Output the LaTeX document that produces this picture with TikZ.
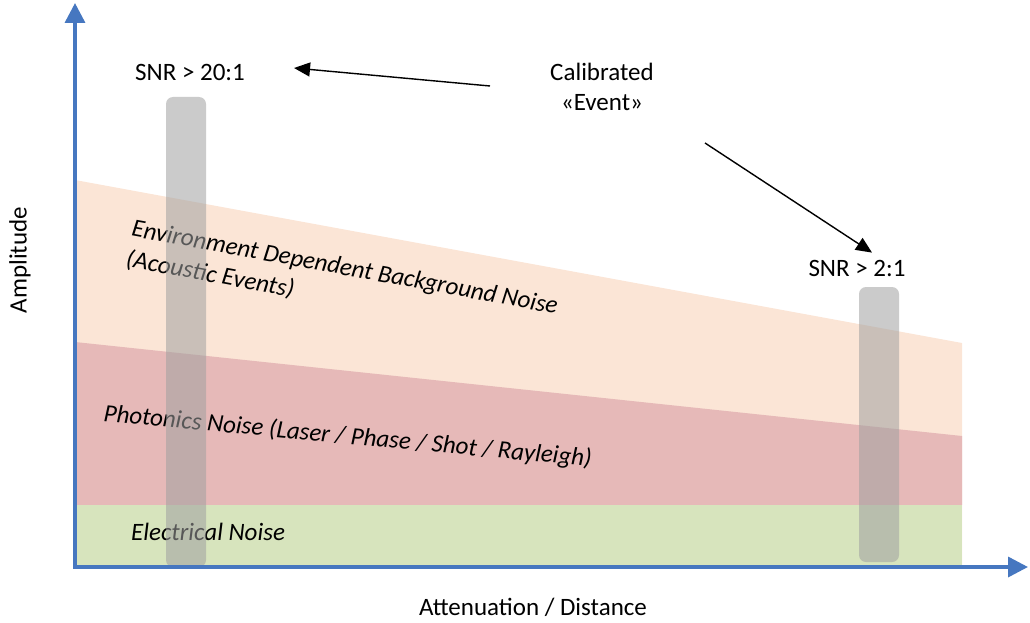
\documentclass[tikz,border=0pt]{standalone}
\usepackage{fontspec}
\setmainfont{Carlito}
\usetikzlibrary{arrows.meta}
\definecolor{axisblue}{RGB}{70,119,192}
\definecolor{envband}{RGB}{251,229,214}
\definecolor{photband}{RGB}{230,185,184}
\definecolor{elecband}{RGB}{215,228,189}
\definecolor{bargray}{RGB}{160,160,160}

\begin{document}
\begin{tikzpicture}[
    x=1pt, y=-1pt,
    every node/.style={font=\fontsize{25}{30}\selectfont, inner sep=2pt},
    noise/.style={font=\fontsize{25}{31}\selectfont\itshape, anchor=base west, align=left},
    snrbar/.style={fill=bargray, fill opacity=0.55, rounded corners=7pt},
    axis/.style={axisblue, line width=3.5pt, {Triangle[length=20pt,width=20pt]}-{Triangle[length=20pt,width=20pt]}},
    pointer/.style={line width=1.4pt, -{Triangle[length=16pt,width=14pt]}},
]
  \useasboundingbox (0,0) rectangle (1030,623);

  \fill[envband]  (75,180) -- (962,343) -- (962,565) -- (75,565) -- cycle;
  \fill[photband] (75,342) -- (962,436) -- (962,505) -- (75,505) -- cycle;
  \fill[elecband] (75,505) rectangle (962,565);

  \node [noise, rotate=-10.4] (env)  at (123,266) {Environment Dependent Background Noise\\(Acoustic Events)};
  \node [noise, rotate=-5.3]  (phot) at (101,421) {Photonics Noise (Laser / Phase / Shot / Rayleigh)};
  \node [noise]               (elec) at (129,540) {Electrical Noise};

  \fill[snrbar] (166,97)  rectangle (206,567);
  \fill[snrbar] (859,287) rectangle (899,562);

  \node []              (snr20) at (190,72)  {SNR > 20:1};
  \node []              (snr2)  at (857,268) {SNR > 2:1};
  \node [align=center]  (cal)   at (602,87)  {Calibrated\\«Event»};

  \coordinate (from20) at (490,86);
  \coordinate (from2)  at (705,143);
  \draw[pointer] (from20) -- ([xshift=47pt,yshift=4pt]snr20.east);
  \draw[pointer] (from2)  -- ([xshift=15pt,yshift=5pt]snr2.north);

  \coordinate (ytip)   at (75,3);
  \coordinate (origin) at (75,567);
  \coordinate (xtip)   at (1028,567);
  \draw[axis] (ytip) -- (origin) -- (xtip);

  \node [rotate=90] (amp) at (20,260)  {Amplitude};
  \node []          (att) at (533,607) {Attenuation / Distance};
\end{tikzpicture}
\end{document}
